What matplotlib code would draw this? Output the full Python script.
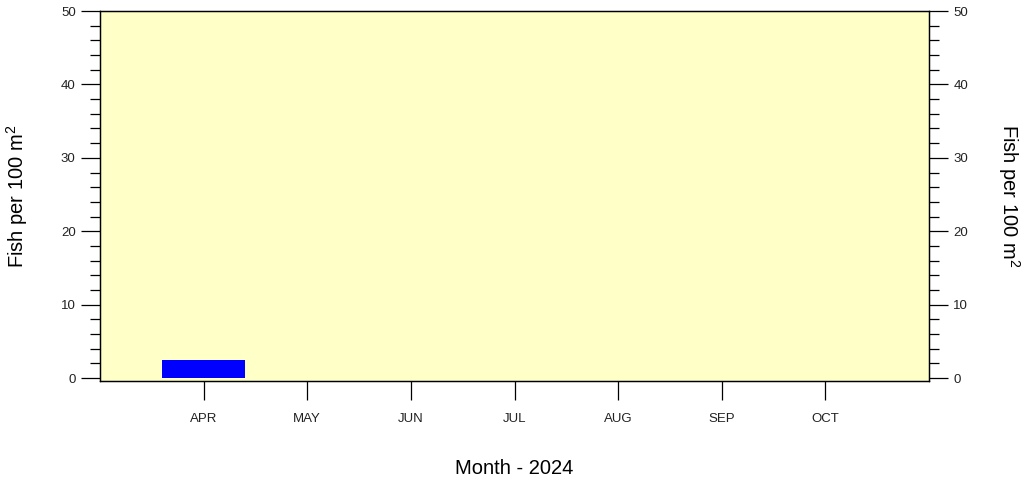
import matplotlib
matplotlib.use("Agg")
import matplotlib.pyplot as plt
from matplotlib.ticker import MultipleLocator

plt.rcParams["font.family"] = ["Liberation Sans", "DejaVu Sans"]
plt.rcParams["mathtext.fontset"] = "custom"
plt.rcParams["mathtext.rm"] = "Liberation Sans"

months = ["APR", "MAY", "JUN", "JUL", "AUG", "SEP", "OCT"]
month_num = [4, 5, 6, 7, 8, 9, 10]
fish_density = [2.5, 0, 0, 0, 0, 0, 0]

fig = plt.figure(figsize=(10.26, 4.78), dpi=100)
ax = fig.add_axes([100 / 1026, 1 - 381 / 478, 829 / 1026, 370 / 478])
ax.set_facecolor("#FFFFC8")

ax.bar(month_num, fish_density, width=0.8, color="#0000FF", linewidth=0)

ax.set_xlim(3, 11)
ax.set_ylim(-0.4, 50)
ax.set_xticks(month_num)
ax.set_xticklabels(months)
ax.yaxis.set_major_locator(MultipleLocator(10))
ax.yaxis.set_minor_locator(MultipleLocator(2))

for s in ax.spines.values():
    s.set_linewidth(0.9)
    s.set_color("black")

tick_col = "#222222"
ax.tick_params(axis="x", direction="out", length=14, width=0.9, pad=9, labelsize=9.5, labelcolor=tick_col)
ax.tick_params(axis="y", which="major", direction="out", length=14, width=0.9, pad=3.5, labelsize=9.5, labelcolor=tick_col)
ax.tick_params(axis="y", which="minor", direction="out", length=7, width=0.9)

ax2 = ax.twinx()
ax2.set_ylim(ax.get_ylim())
ax2.yaxis.set_major_locator(MultipleLocator(10))
ax2.yaxis.set_minor_locator(MultipleLocator(2))
ax2.tick_params(axis="y", which="major", direction="out", length=14, width=0.9, pad=3.5, labelsize=9.5, labelcolor=tick_col)
ax2.tick_params(axis="y", which="minor", direction="out", length=7, width=0.9)
for s in ax2.spines.values():
    s.set_linewidth(0.9)

ax.set_ylabel("Fish per 100 m$^2$", fontsize=14.5, va="center")
ax.yaxis.set_label_coords(-0.1, 0.5)
ax2.set_ylabel("Fish per 100 m$^2$", fontsize=14.5, rotation=-90, va="center")
ax2.yaxis.set_label_coords(1.096, 0.5)
ax.set_xlabel("Month - 2024", fontsize=14.5)
ax.xaxis.set_label_coords(0.5, -0.21)

fig.savefig("out.png", dpi=100)
